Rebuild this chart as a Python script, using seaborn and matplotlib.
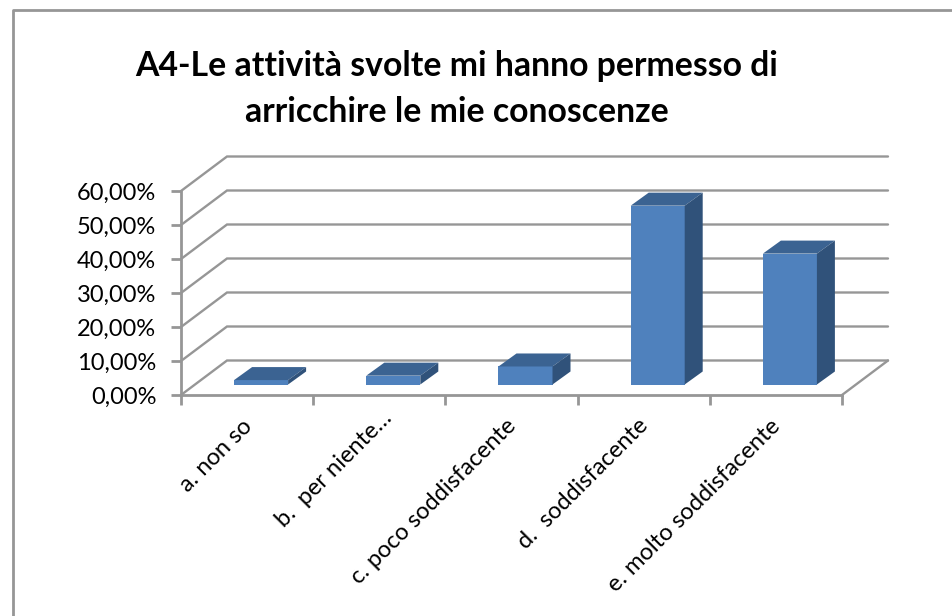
import matplotlib
matplotlib.use('Agg')
import matplotlib.pyplot as plt
from matplotlib.lines import Line2D
from matplotlib.patches import Polygon
from matplotlib.transforms import Affine2D
import seaborn as sns

# Values
categories = ['a. non so', 'b.  per niente…', 'c. poco soddisfacente', 'd.  soddisfacente', 'e. molto soddisfacente']
values = [1.3, 2.6, 5.3, 52.6, 38.5]
y_ticks = [0, 10, 20, 30, 40, 50, 60]
y_labels = ['0,00%', '10,00%', '20,00%', '30,00%', '40,00%', '50,00%', '60,00%']
title = 'A4-Le attività svolte mi hanno permesso di\narricchire le mie conoscenze'

W, H = 953, 616
GREY = '#969696'

sns.set_theme(style='white')
plt.rcParams['font.family'] = ['Lato', 'DejaVu Sans']

fig = plt.figure(figsize=(W / 100, H / 100), dpi=100)
# plot area in pixels: x 181-842, y 191-395
ax = fig.add_axes([181 / W, 1 - 395 / H, 661 / W, 204 / H])

# fake 3d depth, in data units
px_x = 5 / 661
px_y = 60 / 204
wall_dx, wall_dy = 46 * px_x, 34.5 * px_y
base_dx, base_dy = 14 * px_x, 10.5 * px_y
bar_dx, bar_dy = 18 * px_x, 13 * px_y

sns.barplot(x=categories, y=values, color='#4F81BD', saturation=1, width=54 * px_x, ax=ax, zorder=3,
            edgecolor='none', linewidth=0)
ax.set_xlim(-0.5, 4.5)
ax.set_ylim(0, 60)

# back wall and floor
for y in y_ticks:
    ax.plot([-0.5, -0.5 + wall_dx, 4.5 + wall_dx], [y, y + wall_dy, y + wall_dy],
            color=GREY, lw=1.7, clip_on=False, zorder=1, solid_joinstyle='miter')
ax.plot([4.5, 4.5 + wall_dx], [0, wall_dy], color=GREY, lw=1.7, clip_on=False, zorder=1)

# move the bars onto the floor and add top and side faces
for bar, v in zip(ax.patches, values):
    x0 = bar.get_x() + base_dx
    x1 = x0 + bar.get_width()
    bar.set_x(x0)
    bar.set_y(base_dy)
    bar.set_clip_on(False)
    top = base_dy + v
    ax.add_patch(Polygon([(x0, top), (x1, top), (x1 + bar_dx, top + bar_dy), (x0 + bar_dx, top + bar_dy)],
                         facecolor='#3B6392', edgecolor='none', clip_on=False, zorder=3))
    ax.add_patch(Polygon([(x1, base_dy), (x1 + bar_dx, base_dy + bar_dy), (x1 + bar_dx, top + bar_dy), (x1, top)],
                         facecolor='#30527A', edgecolor='none', clip_on=False, zorder=3))

for side in ['top', 'right']:
    ax.spines[side].set_visible(False)
for side in ['left', 'bottom']:
    ax.spines[side].set_color(GREY)
    ax.spines[side].set_linewidth(2)

ax.set_yticks(y_ticks, y_labels, fontsize=17, color='black')
ax.set_xticks([-0.5, 0.5, 1.5, 2.5, 3.5, 4.5], [''] * 6)
ax.set_xticks(range(5), categories, minor=True, fontsize=17, rotation=45, ha='right',
              rotation_mode='anchor', color='black')
ax.tick_params(axis='y', which='major', left=True, length=7, width=2, color=GREY, pad=10.8)
ax.tick_params(axis='x', which='major', bottom=True, length=7, width=2, color=GREY)
ax.tick_params(axis='x', which='minor', bottom=False, length=0, pad=14.5)
for i, label in enumerate(ax.get_xticklabels(minor=True)):
    # the shortened label sits a bit further along its slant
    nudge = 8 if i == 1 else 0
    label.set_transform(label.get_transform() + Affine2D().translate(-6 + nudge, nudge))

fig.text(457 / W, 1 - 89 / H, title, fontsize=24.3, fontweight='bold', ha='center', va='center',
         linespacing=1.5, color='black')

# chart frame
fig.add_artist(Line2D([13 / W, 13 / W, 1], [0, 1 - 10 / H, 1 - 10 / H], color=GREY, lw=2))

fig.savefig('out.png', dpi=100)
